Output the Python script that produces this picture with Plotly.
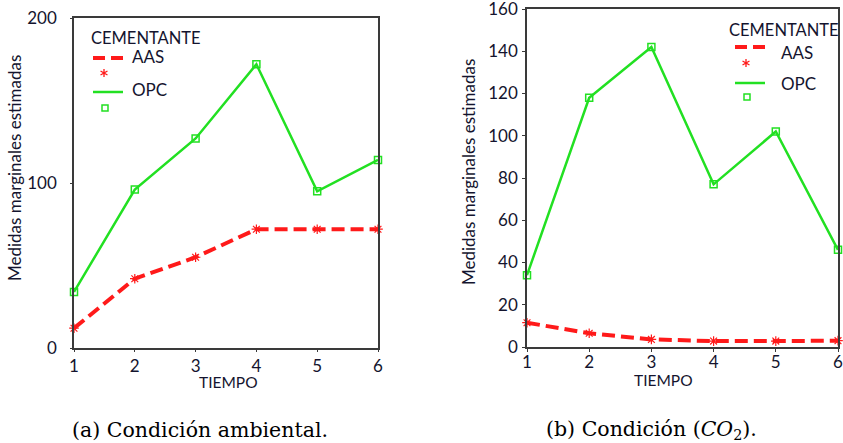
import plotly.graph_objects as go

tiempo = [1, 2, 3, 4, 5, 6]
# Panel (a): condición ambiental
aas_amb = [12, 42, 55, 72, 72, 72]
opc_amb = [34, 96, 127, 172, 95, 114]
# Panel (b): condición CO2
aas_co2 = [11.5, 6.5, 3.6, 2.8, 2.8, 3.0]
opc_co2 = [34, 118, 142, 77, 102, 46]

yticks_a = [0, 100, 200]
yticks_b = [0, 20, 40, 60, 80, 100, 120, 140, 160]

series_names = ["AAS", "OPC"]
legend_title = "CEMENTANTE"

RED = "#ff1a1a"
GREEN = "#22e022"
TXT = "#14142e"
FONT = "Lato"
W, H = 843, 443


def px(x):
    return x / W


def py(y):
    return (H - y) / H


fig = go.Figure()


def add_panel(xa, ya, aas, opc):
    fig.add_trace(go.Scatter(x=tiempo, y=aas, mode="lines", name=series_names[0],
                             line=dict(color=RED, width=4, dash="13px,6px"),
                             xaxis=xa, yaxis=ya, cliponaxis=False, showlegend=False))
    fig.add_trace(go.Scatter(x=tiempo, y=aas, mode="markers", name=series_names[0],
                             marker=dict(symbol="asterisk-open", size=8, color=RED,
                                         line=dict(color=RED, width=1.2)),
                             xaxis=xa, yaxis=ya, cliponaxis=False, showlegend=False))
    fig.add_trace(go.Scatter(x=tiempo, y=opc, mode="lines", name=series_names[1],
                             line=dict(color=GREEN, width=2.5),
                             xaxis=xa, yaxis=ya, cliponaxis=False, showlegend=False))
    fig.add_trace(go.Scatter(x=tiempo, y=opc, mode="markers", name=series_names[1],
                             marker=dict(symbol="square-open", size=7, color=GREEN,
                                         line=dict(color=GREEN, width=1.5)),
                             xaxis=xa, yaxis=ya, cliponaxis=False, showlegend=False))


add_panel("x", "y", aas_amb, opc_amb)
add_panel("x2", "y2", aas_co2, opc_co2)

axis_common = dict(showgrid=False, zeroline=False, showline=True, mirror=True,
                   linecolor="#3a3a3a", linewidth=1.5, ticklabeloverflow="allow",
                   tickfont=dict(family=FONT, size=17, color=TXT))

fig.update_layout(
    width=W, height=H, margin=dict(l=0, r=0, t=0, b=0, autoexpand=False),
    paper_bgcolor="white", plot_bgcolor="white", showlegend=False,
    xaxis=dict(domain=[px(74), px(378)], range=[1, 6], tickvals=tiempo,
               ticks="outside", ticklen=2, tickcolor="#3a3a3a", anchor="y",
               automargin=False, **axis_common),
    yaxis=dict(domain=[py(348), py(18)], range=[0, 200], tickvals=yticks_a,
               ticks="outside", ticklen=2, tickcolor="#3a3a3a", ticklabelstandoff=10,
               anchor="x", automargin=False, **axis_common),
    xaxis2=dict(domain=[px(527), px(838)], range=[1, 6], tickvals=tiempo,
                ticks="outside", ticklen=3, tickcolor="#3a3a3a", anchor="y2",
                ticklabelstandoff=-4, automargin=False, **axis_common),
    yaxis2=dict(domain=[py(347), py(9)], range=[0, 160], tickvals=yticks_b,
                ticks="outside", ticklen=3, tickcolor="#3a3a3a", anchor="x2",
                ticklabelstandoff=1, automargin=False, **axis_common),
)

ann = [
    dict(text="Medidas marginales estimadas", x=px(14), y=py(168), textangle=-90, size=17),
    dict(text="Medidas marginales estimadas", x=px(468), y=py(172), textangle=-90, size=17),
    dict(text="TIEMPO", x=px(228), y=py(382), size=15.5),
    dict(text="TIEMPO", x=px(663), y=py(380), size=15.5),
]
for a in ann:
    size = a.pop("size")
    fig.add_annotation(xref="paper", yref="paper", showarrow=False,
                       xanchor="center", yanchor="middle",
                       font=dict(family=FONT, size=size, color=TXT), **a)


def draw_legend(x0, title_y, aas_y, star_y, opc_y, sq_y, text_x, aas_ty, opc_ty, title_x):
    fig.add_annotation(xref="paper", yref="paper", showarrow=False, x=px(title_x), y=py(title_y),
                       xanchor="left", yanchor="middle", text=legend_title,
                       font=dict(family=FONT, size=16.5, color=TXT))
    fig.add_annotation(xref="paper", yref="paper", showarrow=False, x=px(text_x), y=py(aas_ty),
                       xanchor="left", yanchor="middle", text=series_names[0],
                       font=dict(family=FONT, size=17, color=TXT))
    fig.add_annotation(xref="paper", yref="paper", showarrow=False, x=px(text_x), y=py(opc_ty),
                       xanchor="left", yanchor="middle", text=series_names[1],
                       font=dict(family=FONT, size=17, color=TXT))
    # dashed red swatch
    fig.add_shape(type="line", xref="paper", yref="paper", x0=px(x0), x1=px(x0 + 30),
                  y0=py(aas_y), y1=py(aas_y), line=dict(color=RED, width=4, dash="12px,6px"))
    # solid green swatch
    fig.add_shape(type="line", xref="paper", yref="paper", x0=px(x0), x1=px(x0 + 30),
                  y0=py(opc_y), y1=py(opc_y), line=dict(color=GREEN, width=2.5))
    # asterisk swatch
    cx, cy, r = x0 + 11, star_y, 4
    path = (f"M {px(cx)},{py(cy - r)} L {px(cx)},{py(cy + r)} "
            f"M {px(cx - r * 0.87)},{py(cy - r / 2)} L {px(cx + r * 0.87)},{py(cy + r / 2)} "
            f"M {px(cx - r * 0.87)},{py(cy + r / 2)} L {px(cx + r * 0.87)},{py(cy - r / 2)}")
    fig.add_shape(type="path", xref="paper", yref="paper", path=path,
                  line=dict(color=RED, width=1.3))
    # square swatch
    sx, s = x0 + 12, 3
    fig.add_shape(type="rect", xref="paper", yref="paper", x0=px(sx - s), x1=px(sx + s),
                  y0=py(sq_y + s), y1=py(sq_y - s), line=dict(color=GREEN, width=1.5))


draw_legend(x0=93, title_y=38, aas_y=58, star_y=73, opc_y=92, sq_y=108,
            text_x=130, aas_ty=57, opc_ty=90, title_x=89)
draw_legend(x0=735, title_y=30, aas_y=47, star_y=63, opc_y=83, sq_y=97,
            text_x=779, aas_ty=52, opc_ty=84, title_x=727)

fig.add_annotation(xref="paper", yref="paper", showarrow=False, x=px(200), y=py(430),
                   xanchor="center", yanchor="middle", text="(a) Condición ambiental.",
                   font=dict(family="DejaVu Serif", size=20.5, color="black"))
fig.add_annotation(xref="paper", yref="paper", showarrow=False, x=px(651), y=py(430),
                   xanchor="center", yanchor="middle",
                   text="(b) Condición (<i>CO</i><sub>2</sub>).",
                   font=dict(family="DejaVu Serif", size=20.5, color="black"))

fig.write_html("out.html",
               config={"displayModeBar": False},
               post_script="document.body.style.margin='0px';"
                           "document.body.style.overflow='hidden';")
